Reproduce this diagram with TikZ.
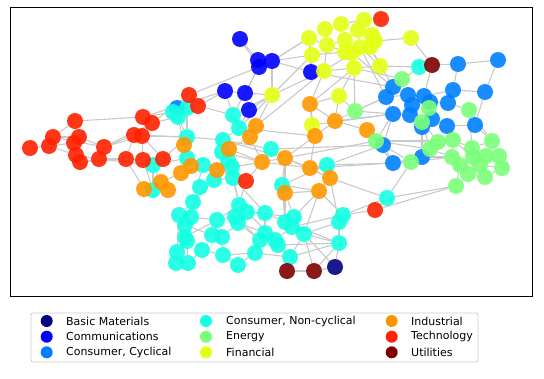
\documentclass[tikz,border=0pt]{standalone}
\usepackage{fontspec}
\setmainfont{DejaVu Sans}
\definecolor{cBM}{rgb}{0,0,0.5}
\definecolor{cCO}{rgb}{0,0,1}
\definecolor{cCC}{rgb}{0,0.5,1}
\definecolor{cNC}{rgb}{0.08,1,0.89}
\definecolor{cEN}{rgb}{0.48,1,0.48}
\definecolor{cFI}{rgb}{0.89,1,0.08}
\definecolor{cIN}{rgb}{1,0.59,0}
\definecolor{cTE}{rgb}{1,0.13,0}
\definecolor{cUT}{rgb}{0.5,0,0}
\definecolor{edgegray}{gray}{0.79}
\pgfdeclarelayer{bg}
\pgfsetlayers{bg,main}
\tikzset{
  dot/.style={circle,minimum size=16pt,inner sep=0pt,draw=none,fill opacity=0.9},
  lgdot/.style={circle,minimum size=12pt,inner sep=0pt,draw=none},
  edge/.style={draw=edgegray,line width=1.1pt},
  lgtext/.style={anchor=west,inner sep=0pt,font=\fontsize{11}{13}\selectfont}
}
\begin{document}
\begin{tikzpicture}[x=1pt,y=-1pt]
\useasboundingbox (0,0) rectangle (544,378);
% nodes
\foreach \n/\x/\y/\c in {
 y21/177/108/cCC,
 n1/173/112/cNC,n2/178/117/cNC,n3/187/108/cNC,n4/233/115/cNC,n5/239/128/cNC,n6/187/137/cNC,n7/223/140/cNC,n8/222/152/cNC,n9/228/160/cNC,n10/187/158/cNC,
 n11/203/165/cNC,n12/232/167/cNC,n13/200/187/cNC,n14/214/180/cNC,n15/233/178/cNC,n16/153/165/cNC,n17/153/190/cNC,n18/271/149/cNC,n19/193/202/cNC,n20/179/215/cNC,
 n21/191/217/cNC,n22/217/220/cNC,n23/239/205/cNC,n24/247/212/cNC,n25/235/217/cNC,n26/265/213/cNC,n27/285/222/cNC,n28/294/217/cNC,n29/292/227/cNC,n30/304/234/cNC,
 n31/343/215/cNC,n32/339/222/cNC,n33/339/243/cNC,n34/290/257/cNC,n35/265/233/cNC,n36/260/240/cNC,n37/255/253/cNC,n38/275/240/cNC,n39/278/245/cNC,n40/238/223/cNC,
 n41/222/237/cNC,n42/212/235/cNC,n43/185/225/cNC,n44/185/237/cNC,n45/187/241/cNC,n46/177/252/cNC,n47/176/263/cNC,n48/188/263/cNC,n49/202/250/cNC,n50/223/255/cNC,
 n51/238/265/cNC,n52/327/165/cNC,n53/282/185/cNC,n54/387/198/cNC,n55/419/67/cNC,
 t1/30/148/cTE,t2/49/146/cTE,t3/53/137/cTE,t4/75/121/cTE,t5/79/137/cTE,t6/74/143/cTE,t7/76/155/cTE,t8/80/162/cTE,t9/104/147/cTE,t10/99/159/cTE,
 t11/126/159/cTE,t12/143/160/cTE,t13/163/159/cTE,t14/143/117/cTE,t15/152/123/cTE,t16/134/135/cTE,t17/142/136/cTE,t18/189/95/cTE,t19/198/106/cTE,t20/381/19/cTE,
 t21/375/210/cTE,t22/246/181/cTE,
 c1/240/39/cCO,c2/258/60/cCO,c3/272/61/cCO,c4/259/67/cCO,c5/225/91/cCO,c6/245/93/cCO,c7/249/110/cCO,c8/311/72/cCO,
 y1/458/64/cCC,y2/498/60/cCC,y3/393/87/cCC,y4/386/97/cCC,y5/408/95/cCC,y6/424/96/cCC,y7/453/90/cCC,y8/485/92/cCC,y9/412/105/cCC,y10/430/102/cCC,
 y11/448/103/cCC,y12/393/114/cCC,y13/410/115/cCC,y14/432/119/cCC,y15/422/127/cCC,y16/447/126/cCC,y17/475/125/cCC,y18/383/145/cCC,y19/393/163/cCC,y20/422/157/cCC,
 f1/309/38/cFI,f2/325/29/cFI,f3/341/24/cFI,f4/364/20/cFI,f5/358/30/cFI,f6/327/45/cFI,f7/312/55/cFI,f8/345/40/cFI,f9/372/35/cFI,f10/375/41/cFI,
 f11/345/52/cFI,f12/360/47/cFI,f13/370/47/cFI,f14/352/53/cFI,f15/411/38/cFI,f16/324/71/cFI,f17/354/68/cFI,f18/380/66/cFI,f19/339/96/cFI,f20/272/95/cFI,
 f21/312/125/cFI,
 i1/310/104/cIN,i2/335/121/cIN,i3/315/136/cIN,i4/367/130/cIN,i5/285/158/cIN,i6/256/126/cIN,i7/250/137/cIN,i8/262/162/cIN,i9/310/168/cIN,i10/330/178/cIN,
 i11/319/191/cIN,i12/285/193/cIN,i13/184/145/cIN,i14/229/149/cIN,i15/191/166/cIN,i16/181/173/cIN,i17/217/170/cIN,i18/161/182/cIN,i19/168/190/cIN,i20/144/189/cIN,
 e1/402/79/cEN,e2/429/108/cEN,e3/422/122/cEN,e4/469/110/cEN,e5/376/141/cEN,e6/411/162/cEN,e7/438/142/cEN,e8/453/140/cEN,e9/430/149/cEN,e10/492/141/cEN,
 e11/452/157/cEN,e12/472/148/cEN,e13/473/157/cEN,e14/486/156/cEN,e15/499/156/cEN,e16/460/165/cEN,e17/468/174/cEN,e18/485/177/cEN,e19/502/168/cEN,e20/480/165/cEN,
 e21/456/186/cEN,e22/355/111/cEN,
 u1/432/65/cUT,u2/287/271/cUT,u3/314/271/cUT,b1/335/267/cBM}
 \node[dot,fill=\c] (\n) at (\x,\y) {};
% edges
\begin{pgfonlayer}{bg}
\foreach \a/\b in {
 t1/t2,t2/t3,t3/t4,t3/t5,t2/t6,t5/t6,t6/t7,t7/t8,t2/t7,t3/t9,t5/t9,t9/t10,t7/t10,t8/t10,t10/t11,t11/t12,t12/t13,t9/t16,t16/t17,t14/t15,
 t15/t16,t4/t14,t14/n1,t15/n2,t17/t12,t16/t11,t12/n16,t13/n16,t13/n6,t17/n6,t18/t19,t18/c4,t19/n3,t19/n4,t15/t18,t11/i20,t12/n17,t9/t15,t4/t5,t8/t11,
 c1/c2,c2/c3,c2/c4,c3/c4,c4/c6,c5/c6,c6/c7,c5/n4,c7/n4,c7/n5,c3/f20,c8/f7,c8/f16,c8/c3,c3/f1,c5/t19,c7/i6,c6/f20,c1/c4,c8/y3,
 f1/f6,f1/f7,f2/f6,f3/f8,f4/f5,f5/f9,f6/f8,f6/f11,f8/f12,f11/f14,f12/f13,f10/f13,f9/f10,f5/f12,f8/f14,f11/f12,f14/f17,f13/f18,f12/f18,f10/f15,
 f15/u1,f16/f17,f6/f16,f7/f11,f14/f16,f17/f18,f17/f19,f19/i1,f14/y3,f13/y3,f12/y4,f18/n55,f3/f4,f2/f3,f5/f8,f7/f20,f21/i1,f21/i3,f21/y12,f19/e22,
 f17/e1,f20/f16,f20/n5,f1/c3,f11/f17,
 y1/y2,y1/u1,y2/y8,y8/y17,y1/y7,y3/y4,y4/y5,y5/y6,y6/y7,y5/y9,y9/y10,y10/y11,y11/y7,y9/y13,y12/y13,y13/y14,y14/y15,y14/y16,y16/y17,y12/y18,
 y18/y19,y19/y20,y15/y20,y3/e1,y4/e22,y12/e5,y6/e2,y10/e2,y16/e8,y17/e10,u1/y6,u1/n55,n55/y3,y18/i4,y19/e6,y20/e11,y7/y8,y11/e4,y15/e3,y4/y12,
 e2/e3,e3/e7,e7/e8,e8/e12,e12/e10,e10/e15,e12/e13,e13/e14,e14/e15,e13/e16,e16/e17,e17/e18,e18/e19,e15/e19,e14/e20,e20/e18,e9/e7,e9/e11,e11/e16,e8/e11,
 e4/e10,e4/e12,e5/e6,e6/e9,e21/e17,e21/t21,t21/n31,t21/n54,n54/e21,n54/e6,e5/e8,e5/e7,e5/i4,e22/i2,e22/y4,e22/f17,e3/e9,e8/e13,e12/e14,e20/e19,
 i1/i2,i1/i3,i2/i3,i2/i4,i3/i5,i3/i9,i5/i9,i9/i10,i10/i11,i11/i12,i12/i5,i5/n18,i6/i7,i7/i14,i6/n5,i8/i14,i8/i5,i8/n18,i13/n6,i13/n10,
 i14/n7,i14/n8,i15/n10,i15/n11,i16/i15,i16/i18,i18/i19,i19/i20,i20/n17,i17/n11,i17/n12,i17/i14,i10/n52,i9/n52,i11/n31,i11/n28,i12/n53,i12/n27,i4/e5,i3/f21,
 i8/i17,i6/f20,i2/y12,i5/e5,i1/f16,i7/n5,i10/n54,i9/i8,t22/i8,t22/n12,t22/n15,t22/n23,t22/i17,i13/i16,i18/n16,
 n1/n2,n2/n3,n1/n3,n3/n6,n4/n5,n5/n7,n6/n7,n7/n8,n8/n9,n9/n12,n10/n11,n11/n12,n12/n15,n14/n15,n13/n14,n10/n16,n16/n17,n17/i19,n13/n19,n19/n20,
 n19/n21,n20/n21,n21/n22,n22/n23,n23/n24,n24/n25,n25/n40,n24/n26,n26/n27,n27/n28,n28/n29,n29/n30,n30/n33,n31/n32,n32/n33,n33/n34,n34/n30,n35/n36,n36/n37,n35/n38,
 n38/n39,n39/n34,n40/n41,n41/n42,n42/n43,n43/n44,n44/n45,n45/n46,n46/n47,n47/n48,n48/n49,n49/n50,n50/n51,n51/n37,n22/n42,n20/n43,n21/n44,n41/n50,n36/n40,n26/n35,
 n29/n38,n53/n27,n15/n23,n14/n19,n18/n7,n52/n53,n53/i5,n34/u2,u2/u3,u3/n33,b1/n30,b1/n33,n18/y18,n52/y19,n54/n31,n1/y21,y21/n3,n2/n6,n4/f20,n43/n13,n48/n45,
 n22/n41,n25/n22,n37/n50,n30/n32,n28/n24,n39/n33,n21/n13,n9/n14,
 t14/c5,t17/t13,t16/n6,t10/n16,t9/t17,c7/f20,n5/i3,n7/i5,n8/i8,n12/n23,n15/n26,n11/n19,n44/n22,n46/n20,n40/n35,n25/n36,n24/n38,n29/n31,n27/n33,i10/n32,
 i12/n28,i11/n30,i9/y19,i4/y19,e5/e9,e6/e11,y20/e9,e22/y12,i2/f19,i1/f17,f16/i6,c8/f1,f7/c3,n52/y18,i5/i10,n53/i11,e16/e21,n47/n45,n4/c4,i13/n2,i7/i8,n9/i17,
 n34/n37,u3/n30,b1/u3}
 \draw[edge] (\a) -- (\b);
\end{pgfonlayer}
% frame
\draw[line width=1pt] (10.5,7.3) rectangle (532.3,296);
% legend
\draw[draw=black!20,line width=0.8pt,rounded corners=2pt,fill=white] (31,313) rectangle (478,362);
\node[lgdot,fill=cBM] (l1) at (46.7,321) {};
\node[lgtext] (lt1) at (66,321) {Basic Materials};
\node[lgdot,fill=cCO] (l2) at (46.7,336.7) {};
\node[lgtext] (lt2) at (66,336.7) {Communications};
\node[lgdot,fill=cCC] (l3) at (46.7,352.3) {};
\node[lgtext] (lt3) at (66,352.3) {Consumer, Cyclical};
\node[lgdot,fill=cNC] (l4) at (206,321) {};
\node[lgtext] (lt4) at (226,321) {Consumer, Non-cyclical};
\node[lgdot,fill=cEN] (l5) at (206,336.7) {};
\node[lgtext] (lt5) at (226,336.7) {Energy};
\node[lgdot,fill=cFI] (l6) at (206,352.3) {};
\node[lgtext] (lt6) at (226,352.3) {Financial};
\node[lgdot,fill=cIN] (l7) at (391.7,321) {};
\node[lgtext] (lt7) at (411,321) {Industrial};
\node[lgdot,fill=cTE] (l8) at (391.7,336.7) {};
\node[lgtext] (lt8) at (411,336.7) {Technology};
\node[lgdot,fill=cUT] (l9) at (391.7,352.3) {};
\node[lgtext] (lt9) at (411,352.3) {Utilities};
\end{tikzpicture}
\end{document}
